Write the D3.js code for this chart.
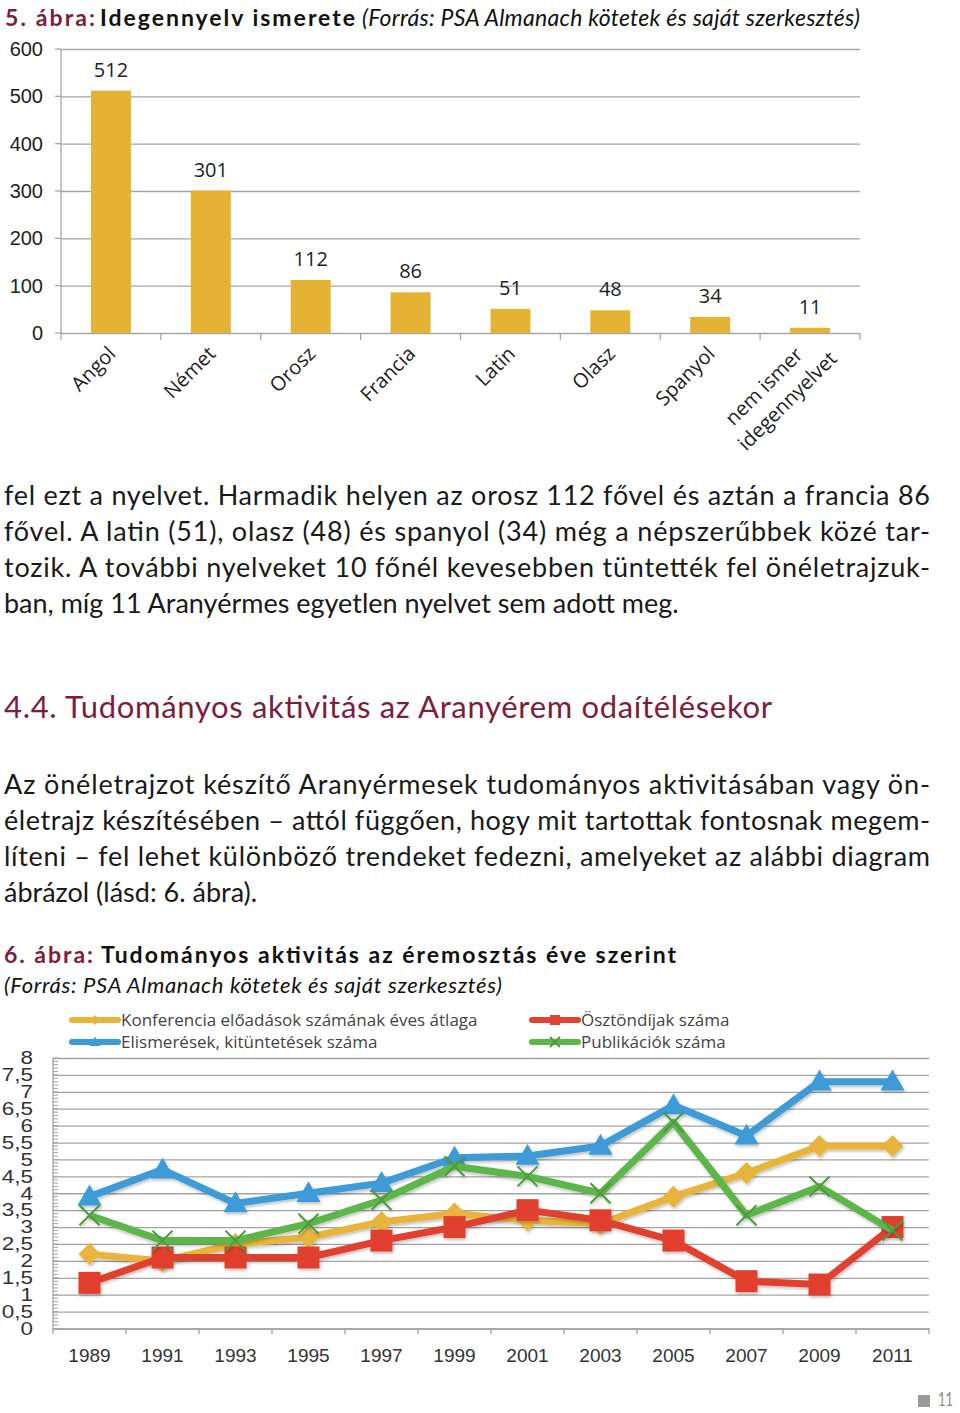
<!DOCTYPE html>
<html>
<head>
<meta charset="utf-8">
<script src="https://cdn.jsdelivr.net/npm/d3@7"></script>
<style>
  body { margin: 0; background: #fff; }
  svg { display: block; }
</style>
</head>
<body>
<div id="page"></div>
<script>
// ---- data: figure 5 (languages) ----
const languages = ["Angol", "Német", "Orosz", "Francia", "Latin", "Olasz", "Spanyol", "nem ismer|idegennyelvet"];
const speakers = [512, 301, 112, 86, 51, 48, 34, 11];
const barTicks = [0, 100, 200, 300, 400, 500, 600];

// ---- data: figure 6 (scientific activity) ----
const years = ["1989", "1991", "1993", "1995", "1997", "1999", "2001", "2003", "2005", "2007", "2009", "2011"];
const konferencia = [2.2, 2.0, 2.5, 2.7, 3.15, 3.4, 3.2, 3.1, 3.9, 4.6, 5.4, 5.4];
const osztondijak = [1.35, 2.1, 2.1, 2.1, 2.6, 3.0, 3.5, 3.2, 2.6, 1.4, 1.3, 3.0];
const elismeresek = [3.9, 4.7, 3.7, 4.0, 4.3, 5.05, 5.1, 5.4, 6.6, 5.7, 7.3, 7.3];
const publikaciok = [3.35, 2.6, 2.6, 3.1, 3.8, 4.8, 4.5, 4.0, 6.1, 3.35, 4.2, 2.9];
const lineTicks = [0, 0.5, 1, 1.5, 2, 2.5, 3, 3.5, 4, 4.5, 5, 5.5, 6, 6.5, 7, 7.5, 8];

// series in Excel order (legend fills row-wise)
const series = [
  { name: "Konferencia előadások számának éves átlaga", values: konferencia, color: "#e8b43a", marker: "diamond" },
  { name: "Ösztöndíjak száma", values: osztondijak, color: "#e2412f", marker: "square" },
  { name: "Elismerések, kitüntetések száma", values: elismeresek, color: "#3d9bd8", marker: "triangle" },
  { name: "Publikációk száma", values: publikaciok, color: "#5cb649", marker: "x" }
];

const width = 960, height = 1413;
const maroon = "#7c1d3c";
const chartFont = "'Open Sans', sans-serif";
const bodyFont = "Lato, 'Noto Sans', sans-serif";

const svg = d3.select("#page").append("svg")
    .attr("width", width)
    .attr("height", height);

svg.append("defs").append("filter")
    .attr("id", "shadow")
    .attr("x", "-10%").attr("y", "-10%").attr("width", "120%").attr("height", "130%")
  .append("feDropShadow")
    .attr("dx", 1).attr("dy", 2).attr("stdDeviation", 1.5)
    .attr("flood-color", "#000").attr("flood-opacity", 0.25);

// caption helper: pieces of text fitted to measured widths
function caption(pieces) {
  pieces.forEach(p => {
    const t = svg.append("text")
        .attr("x", p.x).attr("y", p.y)
        .attr("font-family", bodyFont)
        .attr("font-size", p.size)
        .attr("fill", p.color || "#111")
        .attr("textLength", p.len).attr("lengthAdjust", "spacing")
        .text(p.text);
    if (p.bold) t.attr("font-weight", "bold");
    if (p.italic) t.attr("font-style", "italic");
  });
}

// ---- figure 5 caption ----
caption([
  { text: "5. ábra:", x: 5, y: 26, size: 23, len: 90, bold: true, color: maroon },
  { text: "Idegennyelv ismerete", x: 100, y: 26, size: 23, len: 255, bold: true },
  { text: "(Forrás: PSA Almanach kötetek és saját szerkesztés)", x: 362, y: 26, size: 23, len: 498, italic: true }
]);

// ---- figure 5: bar chart ----
const bx = d3.scaleBand().domain(languages).range([61, 860]).paddingInner(0.6).paddingOuter(0.3);
const by = d3.scaleLinear().domain([0, 600]).range([333, 49]);

const barG = svg.append("g").attr("font-family", chartFont);

barG.append("g")
    .attr("transform", "translate(61,0)")
    .call(d3.axisLeft(by).tickValues(barTicks).tickSize(-(860 - 61)).tickPadding(18))
    .call(g => g.select(".domain").remove())
    .call(g => g.selectAll(".tick line").attr("stroke", "#a6a6a6").attr("stroke-width", 1.3))
    .call(g => g.selectAll(".tick text").attr("font-size", 20).attr("fill", "#222"));

// small outward ticks on the value axis
barG.append("g").selectAll("line").data(barTicks).join("line")
    .attr("x1", 55).attr("x2", 61)
    .attr("y1", d => by(d)).attr("y2", d => by(d))
    .attr("stroke", "#a6a6a6").attr("stroke-width", 1.3);

barG.append("line")
    .attr("x1", 61).attr("x2", 61).attr("y1", 49).attr("y2", 333)
    .attr("stroke", "#a6a6a6").attr("stroke-width", 1.3);

// category boundary ticks
barG.append("g").selectAll("line").data(d3.range(languages.length + 1)).join("line")
    .attr("x1", i => 61 + i * (860 - 61) / languages.length)
    .attr("x2", i => 61 + i * (860 - 61) / languages.length)
    .attr("y1", 333).attr("y2", 340)
    .attr("stroke", "#a6a6a6").attr("stroke-width", 1.3);

barG.append("g").selectAll("rect").data(languages).join("rect")
    .attr("x", d => bx(d))
    .attr("width", bx.bandwidth())
    .attr("y", (d, i) => by(speakers[i]))
    .attr("height", (d, i) => by(0) - by(speakers[i]))
    .attr("fill", "#e5b334");

barG.append("g").selectAll("text").data(languages).join("text")
    .attr("x", d => bx(d) + bx.bandwidth() / 2)
    .attr("y", (d, i) => by(speakers[i]) - 14)
    .attr("text-anchor", "middle")
    .attr("font-size", 20)
    .attr("fill", "#222")
    .text((d, i) => speakers[i]);

// rotated category labels
languages.forEach(d => {
  const cx = bx(d) + bx.bandwidth() / 2;
  const parts = d.split("|");
  const offsets = parts.length === 1 ? [[6, 355]] : [[-6, 356], [28, 360]];
  parts.forEach((p, k) => {
    barG.append("text")
        .attr("transform", `translate(${cx + offsets[k][0]},${offsets[k][1]}) rotate(-45)`)
        .attr("text-anchor", "end")
        .attr("font-size", 20)
        .attr("fill", "#222")
        .text(p);
  });
});

// ---- body text ----
const para1 = [
  ["fel ezt a nyelvet. Harmadik helyen az orosz 112 fővel és aztán a francia 86", true],
  ["fővel. A latin (51), olasz (48) és spanyol (34) még a népszerűbbek közé tar-", true],
  ["tozik. A további nyelveket 10 főnél kevesebben tüntették fel önéletrajzuk-", true],
  ["ban, míg 11 Aranyérmes egyetlen nyelvet sem adott meg.", false]
];
const para2 = [
  ["Az önéletrajzot készítő Aranyérmesek tudományos aktivitásában vagy ön-", true],
  ["életrajz készítésében – attól függően, hogy mit tartottak fontosnak megem-", true],
  ["líteni – fel lehet különböző trendeket fedezni, amelyeket az alábbi diagram", true],
  ["ábrázol (lásd: 6. ábra).", false]
];

function paragraph(lines, y0) {
  lines.forEach((l, i) => {
    const t = svg.append("text")
        .attr("x", 4)
        .attr("y", y0 + i * 36)
        .attr("font-family", bodyFont)
        .attr("font-size", 27)
        .attr("fill", "#1a1a1a")
        .text(l[0]);
    if (l[1]) t.attr("textLength", 926).attr("lengthAdjust", "spacing");
  });
}
paragraph(para1, 505);

svg.append("text")
    .attr("x", 4).attr("y", 718)
    .attr("font-family", bodyFont).attr("font-size", 31)
    .attr("fill", maroon)
    .attr("textLength", 768).attr("lengthAdjust", "spacing")
    .text("4.4. Tudományos aktivitás az Aranyérem odaítélésekor");

paragraph(para2, 794);

// ---- figure 6 caption ----
caption([
  { text: "6. ábra:", x: 4, y: 963, size: 23, len: 89, bold: true, color: maroon },
  { text: "Tudományos aktivitás az éremosztás éve szerint", x: 101, y: 963, size: 23, len: 575, bold: true },
  { text: "(Forrás: PSA Almanach kötetek és saját szerkesztés)", x: 4, y: 993, size: 22, len: 498, italic: true }
]);

// ---- figure 6: line chart ----
const lx = d3.scaleBand().domain(years).range([53, 929]);
const ly = d3.scaleLinear().domain([0, 8]).range([1328.5, 1058]);
const lineG = svg.append("g").attr("font-family", chartFont);

lineG.append("g")
    .attr("transform", "translate(53,0)")
    .call(d3.axisLeft(ly).tickValues(lineTicks).tickSize(-(929 - 53)).tickPadding(16)
      .tickFormat(d => String(d).replace(".", ",")))
    .call(g => g.select(".domain").remove())
    .call(g => g.selectAll(".tick line").attr("stroke", "#a3a3a3").attr("stroke-width", 1.3))
    .call(g => g.selectAll(".tick text")
      .attr("font-size", 18).attr("fill", "#333")
      .attr("transform", "scale(1.25,1)"));

// minor ticks every 0.1
lineG.append("g").selectAll("line").data(d3.range(0, 81).map(i => i / 10)).join("line")
    .attr("x1", 53).attr("x2", 58)
    .attr("y1", d => ly(d)).attr("y2", d => ly(d))
    .attr("stroke", "#a3a3a3").attr("stroke-width", 1);

lineG.append("line")
    .attr("x1", 53).attr("x2", 53).attr("y1", 1058).attr("y2", 1328.5)
    .attr("stroke", "#a3a3a3").attr("stroke-width", 1.3);

lineG.append("g")
    .attr("transform", "translate(0,1328.5)")
    .call(d3.axisBottom(lx).tickSize(0).tickPadding(20))
    .call(g => g.select(".domain").attr("stroke", "#a3a3a3").attr("stroke-width", 1.3))
    .call(g => g.selectAll(".tick text").attr("font-size", 19).attr("fill", "#333"));

lineG.append("g").selectAll("line").data(d3.range(years.length + 1)).join("line")
    .attr("x1", i => 53 + i * lx.step()).attr("x2", i => 53 + i * lx.step())
    .attr("y1", 1328.5).attr("y2", 1334)
    .attr("stroke", "#a3a3a3").attr("stroke-width", 1.3);

function drawMarker(g, type, color, x, y, s) {
  if (type === "diamond") {
    g.append("path").attr("d", `M${x},${y - s}L${x + s},${y}L${x},${y + s}L${x - s},${y}Z`)
        .attr("fill", color);
  } else if (type === "square") {
    g.append("rect").attr("x", x - s).attr("y", y - s).attr("width", 2 * s).attr("height", 2 * s)
        .attr("fill", color);
  } else if (type === "triangle") {
    g.append("path").attr("d", `M${x},${y - s * 1.1}L${x + s * 1.1},${y + s * 0.8}L${x - s * 1.1},${y + s * 0.8}Z`)
        .attr("fill", color);
  } else {
    g.append("path").attr("d", `M${x - s},${y - s}L${x + s},${y + s}M${x - s},${y + s}L${x + s},${y - s}`)
        .attr("stroke", "#4f9a3d").attr("stroke-width", 2);
  }
}

const line = d3.line()
    .x((d, i) => lx(years[i]) + lx.bandwidth() / 2)
    .y(d => ly(d));

series.forEach(s => {
  const g = lineG.append("g").attr("filter", "url(#shadow)");
  g.append("path")
      .attr("d", line(s.values))
      .attr("fill", "none")
      .attr("stroke", s.color)
      .attr("stroke-width", 7)
      .attr("stroke-linejoin", "round");
  s.values.forEach((v, i) => {
    const size = s.marker === "x" ? 10 : 11;
    drawMarker(g, s.marker, s.color, lx(years[i]) + lx.bandwidth() / 2, ly(v), size);
  });
});

// legend
const legendPos = [[72, 1020], [532, 1020], [72, 1042], [532, 1042]];
series.forEach((s, i) => {
  const [x, y] = legendPos[i];
  const g = lineG.append("g");
  g.append("line")
      .attr("x1", x).attr("x2", x + 46).attr("y1", y).attr("y2", y)
      .attr("stroke", s.color).attr("stroke-width", 6).attr("stroke-linecap", "round");
  drawMarker(g, s.marker, s.color, x + 23, y, 5);
  g.append("text")
      .attr("x", x + 49).attr("y", y + 6)
      .attr("font-size", 17).attr("fill", "#444")
      .text(s.name);
});

// page number
svg.append("rect").attr("x", 918).attr("y", 1395).attr("width", 12).attr("height", 12).attr("fill", "#9a9a9a");
svg.append("text")
    .attr("x", 938).attr("y", 1406)
    .attr("font-family", bodyFont).attr("font-size", 19).attr("fill", "#8a8a8a")
    .attr("textLength", 15).attr("lengthAdjust", "spacingAndGlyphs")
    .text("11");
</script>
</body>
</html>
